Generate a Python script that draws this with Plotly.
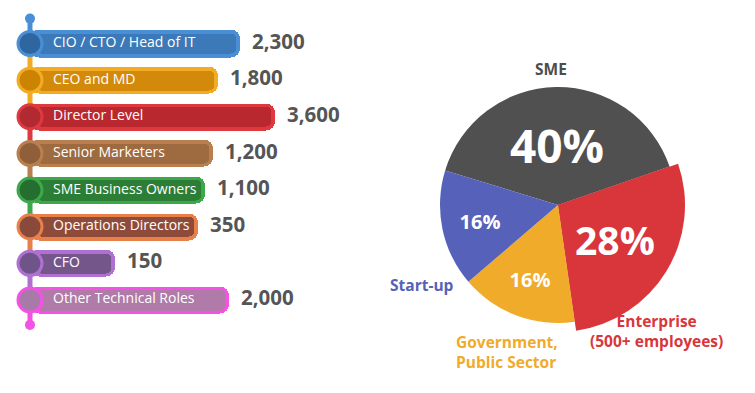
import plotly.graph_objects as go

# ---------------- data ----------------
roles = ["CIO / CTO / Head of IT", "CEO and MD", "Director Level", "Senior Marketers",
         "SME Business Owners", "Operations Directors", "CFO", "Other Technical Roles"]
counts = [2300, 1800, 3600, 1200, 1100, 350, 150, 2000]
# apparent bar end (bars are drawn to fit their labels)
bar_extent = [240, 218, 275, 213, 205, 198, 115, 229]

segments = ["SME", "Enterprise (500+ employees)", "Government, Public Sector", "Start-up"]
shares = [40, 28, 16, 16]

# ---------------- styles ----------------
rim = ["#4a8fd6", "#f2ab22", "#de393e", "#b97f4e", "#3da84a", "#e8804a", "#b070d2", "#f352e4"]
fill = ["#3c79b8", "#d38a0b", "#b9282f", "#9e6a40", "#2c7e36", "#8f4b3a", "#74568b", "#b07aa9"]
knob = ["#2f669f", "#cb8400", "#b12a31", "#8e5f39", "#266d30", "#8a4a3b", "#6e5489", "#a87aa7"]
pie_colors = ["#505050", "#d8363b", "#f0ab2a", "#5661b9"]
label_colors = ["#4d4d4d", "#d8363b", "#f0ab2a", "#5661b9"]
FONT = "Open Sans"

W, H = 755, 393
LEFT_W = 340
n = len(roles)
ys = list(range(n))
KNOB_X = 30
STUB = 0.68

fig = go.Figure()

# stem segments
stem_pts = [-STUB] + ys + [n - 1 + STUB]
seg_col = [rim[0], rim[1]] + rim[1:n]
for i in range(len(stem_pts) - 1):
    fig.add_trace(go.Scatter(x=[KNOB_X, KNOB_X], y=[stem_pts[i], stem_pts[i + 1]], mode="lines",
                             line=dict(color=seg_col[i], width=5), hoverinfo="skip",
                             showlegend=False, xaxis="x", yaxis="y"))
fig.add_trace(go.Scatter(x=[KNOB_X, KNOB_X], y=[stem_pts[0], stem_pts[-1]], mode="markers",
                         marker=dict(size=10, color=[rim[0], rim[-1]]), hoverinfo="skip",
                         showlegend=False))

# outer (rim) bars
fig.add_trace(go.Bar(y=ys, x=[e - KNOB_X for e in bar_extent], base=KNOB_X, orientation="h",
                     width=0.74, marker=dict(color=rim, line=dict(width=0), cornerradius=9),
                     hoverinfo="skip", showlegend=False))
# inner fill bars
INNER0 = 36
fig.add_trace(go.Bar(y=ys, x=[e - 4 - INNER0 for e in bar_extent], base=INNER0, orientation="h",
                     width=0.55, marker=dict(color=fill, line=dict(width=0), cornerradius=5),
                     hoverinfo="skip", showlegend=False))
# knobs
fig.add_trace(go.Scatter(x=[KNOB_X] * n, y=ys, mode="markers",
                         marker=dict(size=24, color=knob, line=dict(color=rim, width=3)),
                         hoverinfo="skip", showlegend=False))
# labels inside bars
fig.add_trace(go.Scatter(x=[53] * n, y=ys, mode="text", text=roles, textposition="middle right",
                         textfont=dict(family=FONT, size=14, color="white"),
                         hoverinfo="skip", showlegend=False))
# values
fig.add_trace(go.Scatter(x=[e + 12 for e in bar_extent], y=ys, mode="text",
                         text=[f"{c:,}" for c in counts], textposition="middle right",
                         textfont=dict(family=FONT, size=20.5, color="#555555", weight="bold"),
                         hoverinfo="skip", showlegend=False))

# ---------------- pie ----------------
cx, cy = 558, 205
R_MAIN, R_BIG = 118, 127
ROT = 71 - 144  # SME starts so that the Enterprise slice begins at ~71deg


def pie_domain(r):
    return dict(x=[(cx - r) / W, (cx + r) / W], y=[1 - (cy + r) / H, 1 - (cy - r) / H])


# enlarged Enterprise slice (others transparent)
big_colors = ["rgba(0,0,0,0)", pie_colors[1], "rgba(0,0,0,0)", "rgba(0,0,0,0)"]
fig.add_trace(go.Pie(labels=segments, values=shares, sort=False, direction="clockwise",
                     rotation=ROT, marker=dict(colors=big_colors, line=dict(width=0)),
                     textinfo="none", domain=pie_domain(R_BIG), showlegend=False,
                     hoverinfo="skip"))
fig.add_trace(go.Pie(labels=segments, values=shares, sort=False, direction="clockwise",
                     rotation=ROT,
                     marker=dict(colors=pie_colors, line=dict(width=0)),
                     text=[f"{v}%" for v in shares], textinfo="text", textposition="inside",
                     insidetextorientation="horizontal",
                     textfont=dict(family=FONT, size=[46, 39, 20, 20], color="white", weight="bold"),
                     domain=pie_domain(R_MAIN), showlegend=False, hoverinfo="label+percent"))

ann = [
    dict(text="SME", x=551, y=69, xanchor="center", color=label_colors[0]),
    dict(text="Enterprise<br>(500+ employees)", x=656, y=331, xanchor="center", color=label_colors[1]),
    dict(text="Government,<br>Public Sector", x=454, y=352, xanchor="left", color=label_colors[2]),
    dict(text="Start-up", x=422, y=285, xanchor="center", color=label_colors[3]),
]
annotations = []
for a in ann:
    annotations.append(dict(text=a["text"], x=a["x"] / W, y=1 - a["y"] / H, xref="paper", yref="paper",
                            xanchor=a["xanchor"], yanchor="middle", showarrow=False,
                            align="center" if a["xanchor"] == "center" else "left",
                            font=dict(family=FONT, size=15.5, color=a["color"], weight="bold")))

top_px = 171.75 - 4.4 * 36.64
bot_px = 171.75 + 4.4 * 36.64
fig.update_layout(
    width=W, height=H, margin=dict(l=0, r=0, t=0, b=0),
    paper_bgcolor="white", plot_bgcolor="white",
    barmode="overlay", bargap=0,
    xaxis=dict(domain=[0, LEFT_W / W], range=[0, LEFT_W], visible=False, fixedrange=True),
    yaxis=dict(domain=[1 - bot_px / H, 1 - top_px / H], range=[n - 1 + 0.9, -0.9],
               visible=False, fixedrange=True),
    annotations=annotations,
    font=dict(family=FONT),
)

fig.write_html("out.html", config={"displayModeBar": False},
               post_script="document.body.style.margin='0';")
